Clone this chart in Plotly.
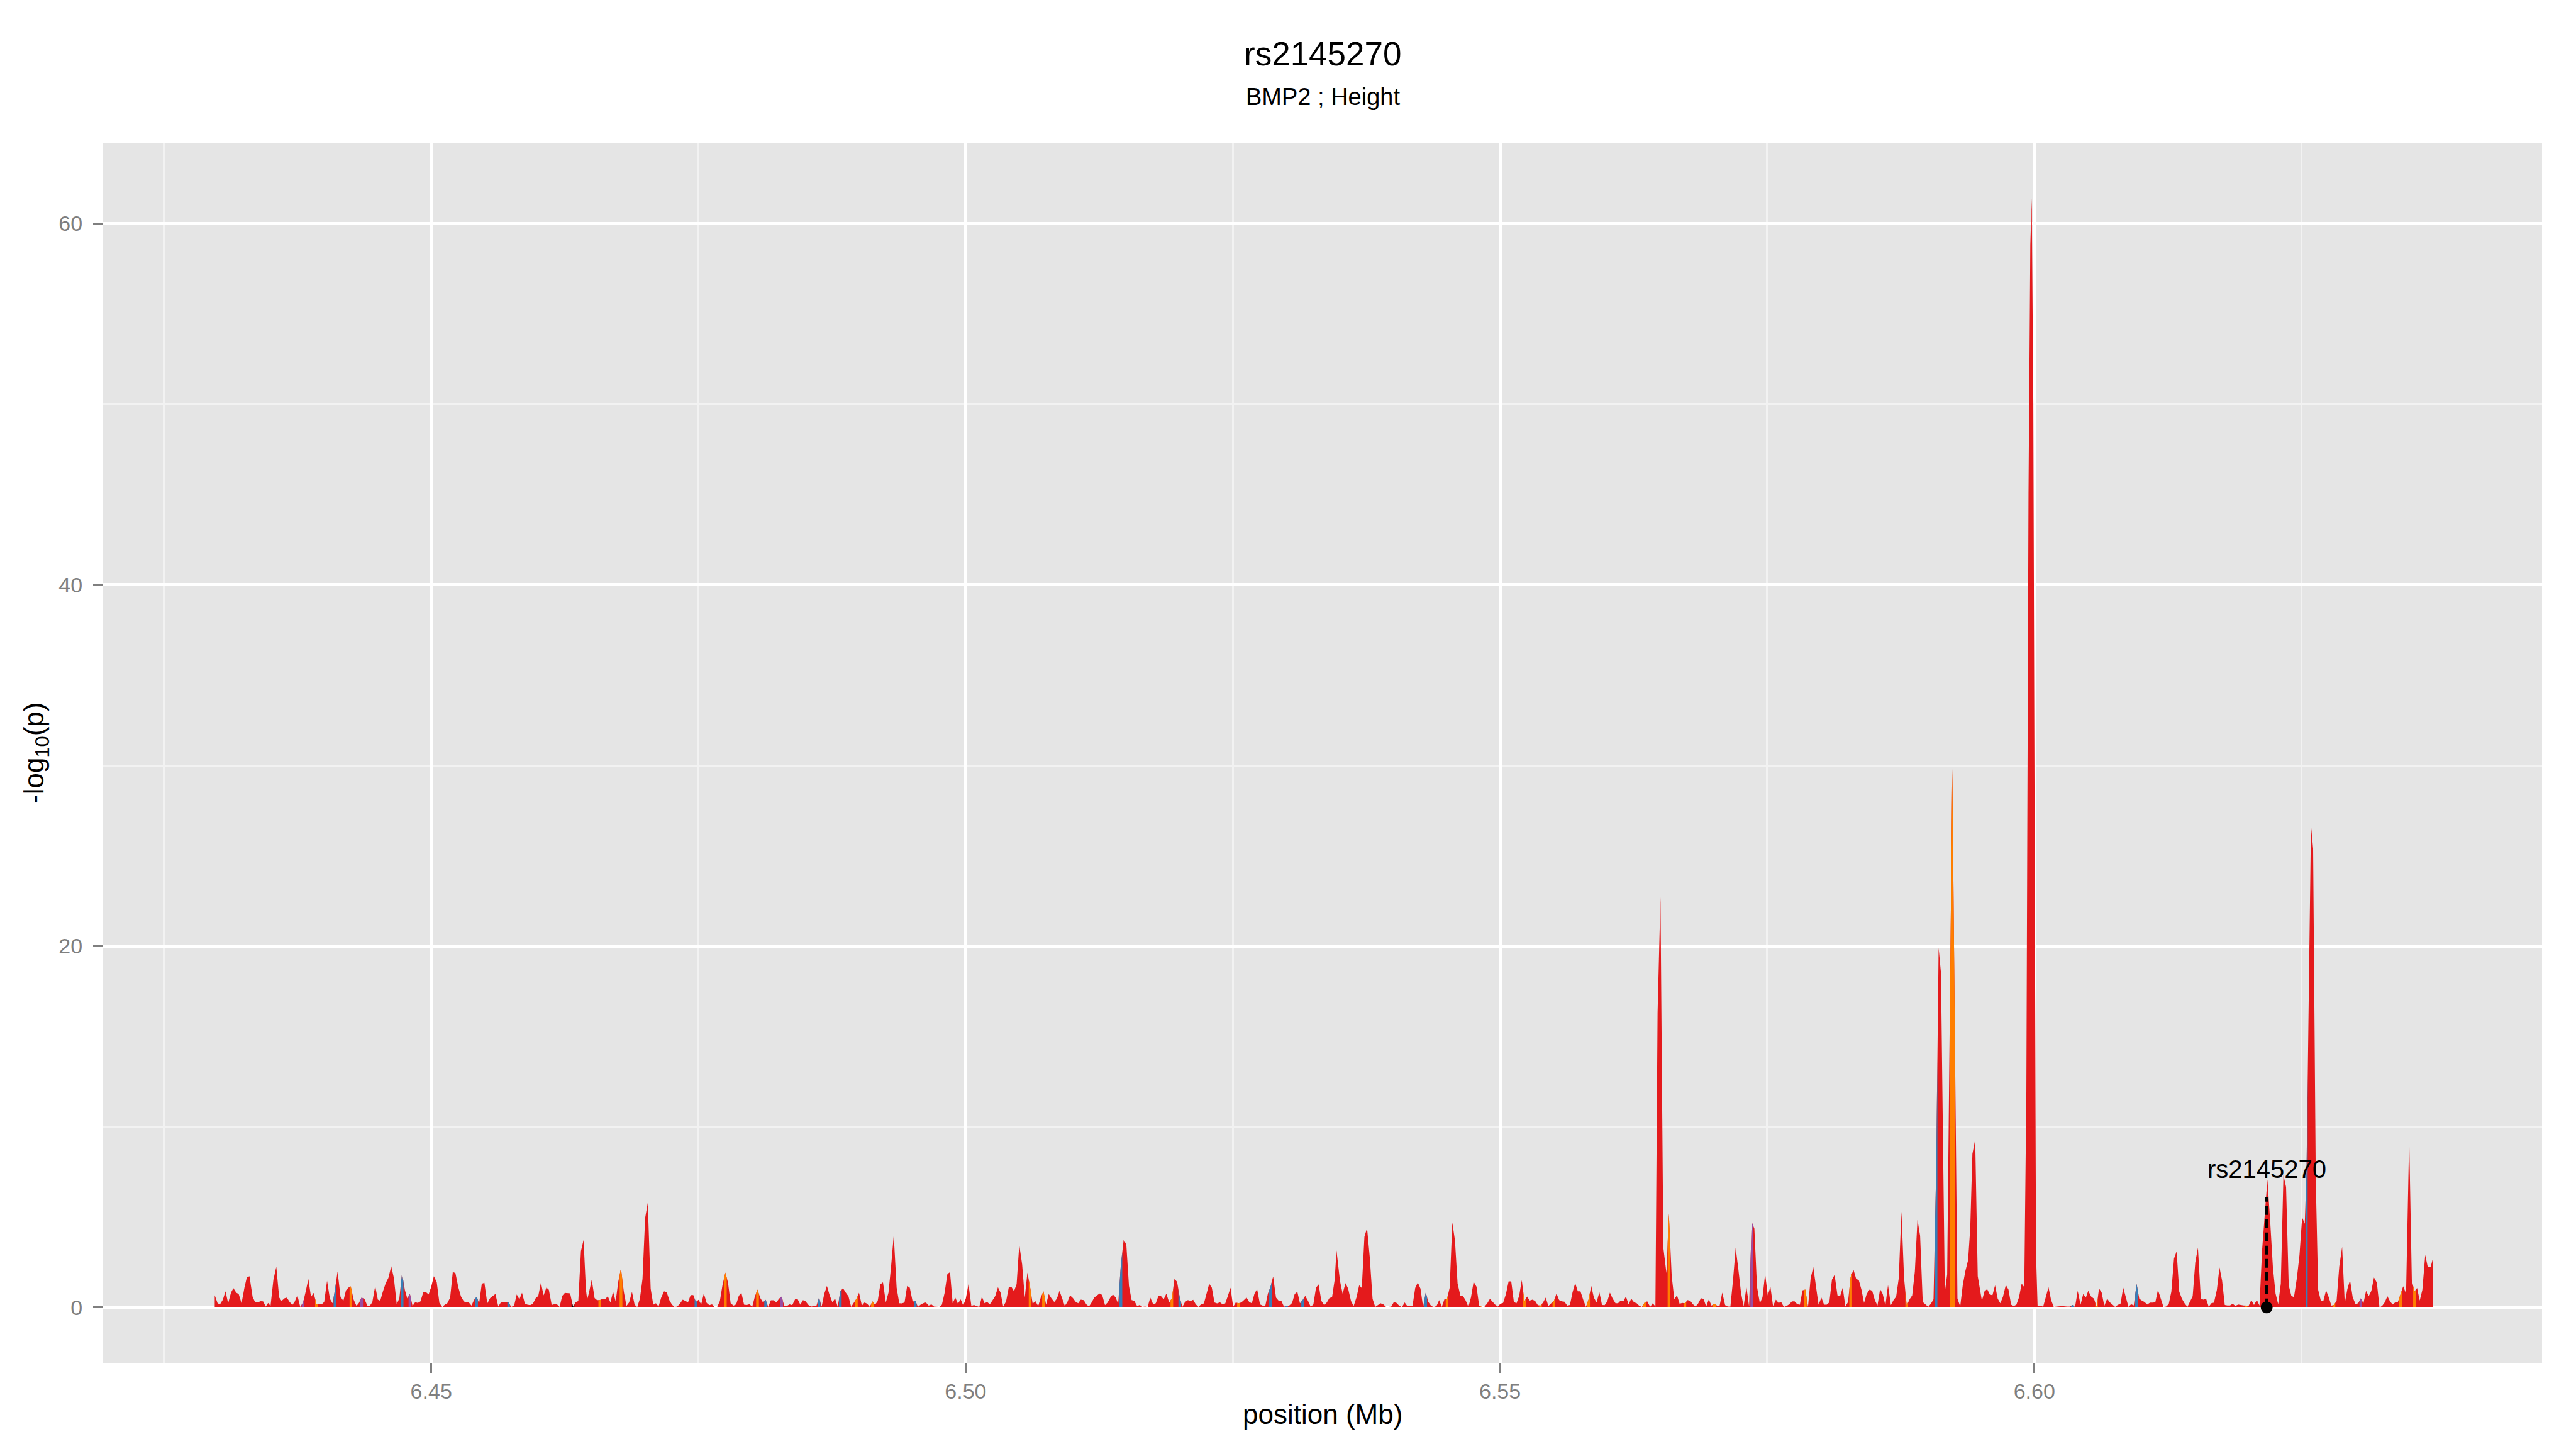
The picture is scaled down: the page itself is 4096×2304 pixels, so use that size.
import numpy as np
import plotly.graph_objects as go

# ---------------- data ----------------
# SNP positions (bp) and -log10(p)
pos_bp = [
 6429740,6430009,6430233,6430502,6430749,6430995,6431264,6431488,6431757,6431981,
 6432250,6432519,6432743,6432990,6433281,6433528,6433797,6434043,6434267,6434514,
 6434738,6434962,6435231,6435500,6435769,6435993,6436284,6436486,6436732,6437001,
 6437225,6437472,6437741,6438010,6438256,6438503,6438749,6438996,6439265,6439534,
 6439758,6439982,6440251,6440520,6440766,6440968,6441237,6441506,6441775,6442021,
 6442245,6442469,6442738,6443007,6443231,6443478,6443747,6444016,6444262,6444486,
 6444755,6445002,6445226,6445472,6445741,6445988,6446257,6446503,6446772,6447018,
 6447265,6447534,6447758,6448004,6448251,6448498,6448744,6448991,6449260,6449506,
 6449753,6450000,6450246,6450515,6450763,6451030,6451254,6451500,6451769,6452016,
 6452262,6452531,6452778,6453047,6453271,6453495,6453764,6454010,6454257,6454481,
 6454728,6454974,6455243,6455512,6455758,6456005,6456274,6456520,6456767,6457013,
 6457237,6457484,6457753,6457999,6458246,6458492,6458761,6459008,6459254,6459501,
 6459770,6460016,6460263,6460509,6460778,6461002,6461271,6461518,6461764,6462011,
 6462257,6462504,6462997,6463266,6463513,6463759,6464006,6464252,
 6464478,6464590,6464747,6465016,6465285,6465509,6465778,6466002,6466271,6466517,
 6466764,6467010,6467257,6467503,6467750,6468019,6468265,6468512,6468781,6469027,
 6469274,6469520,6469767,6470013,6470260,6470529,6470775,6471022,6471268,6471515,
 6471784,6472030,6472277,6472523,6472770,6473016,6473263,6473532,6473778,6474025,
 6474271,6474518,6474764,6475011,6475257,6475504,6475773,6476019,6476266,6476512,
 6476759,6477005,6477252,6477521,6477767,6478014,6478283,6478529,6478776,6479022,
 6479269,6479515,6479784,6480031,6480277,6480524,6480792,6481039,6481286,6481532,
 6481779,6482047,6482294,6482540,6482787,6483033,6483280,6483527,6483773,6484042,
 6484288,6484535,6484781,6485028,6485297,6485543,6485790,6486036,6486283,6486529,
 6486776,6487022,6487269,6487538,6487784,6488031,6488277,6488524,6488793,6489039,
 6489286,6489532,6489779,6490025,6490294,6490541,6490787,6491034,6491280,6491527,
 6491773,6492020,6492266,6492535,6492782,6493028,6493275,6493544,6493790,6494037,
 6494283,6494530,6494776,6495045,6495292,6495538,6495785,6496031,6496278,6496547,
 6496793,6497040,6497286,6497533,6497779,6498026,6498295,6498541,6498788,6499034,
 6499281,6499527,
 6499618,6499775,6500021,6500268,6500537,6500783,6501030,6501276,6501523,6501769,
 6502016,6502262,6502531,6502778,6503024,6503271,6503517,6503786,6504033,6504279,
 6504526,6504772,6505019,6505288,6505534,6505781,6506027,6506274,6506520,6506789,
 6507036,6507282,6507529,6507775,6508022,6508291,6508537,6508784,6509030,6509277,
 6509523,6509770,6510039,6510285,6510532,6510778,6511047,6511294,6511540,6511787,
 6512033,6512280,6512526,6512773,6513042,6513288,6513535,6513781,6514028,6514274,
 6514521,6514790,6515036,6515283,6515529,6515776,6516045,6516291,6516538,6516784,
 6517031,6517277,6517546,6517793,6518039,6518286,6518532,6518779,6519048,6519294,
 6519541,6519787,6520034,6520280,6520527,6520796,6521042,6521289,6521535,6521782,
 6522028,6522297,6522543,6522790,6523036,6523283,6523529,6523798,6524045,6524291,
 6524538,6524784,6525031,6525277,6525524,6525793,6526039,6526286,6526532,6526779,
 6527025,6527272,6527541,6527787,6528034,6528280,6528527,6528773,6529042,6529289,
 6529535,6529782,6530028,6530275,6530544,6530790,6531037,6531283,6531530,6531776,
 6532045,6532292,6532538,6532785,6533031,6533278,6533547,6533793,6534040,6534286,
 6534533,6534700,
 6535028,6535274,6535543,6535790,6536059,6536305,6536574,6536821,6537067,6537314,
 6537560,6537807,6538076,6538322,6538569,6538815,6539084,6539331,6539577,6539824,
 6540070,6540317,6540586,6540832,6541079,6541325,6541572,6541818,6542065,6542311,
 6542558,6542804,6543051,6543297,6543566,6543813,6544059,6544306,6544552,6544799,
 6545045,6545292,6545538,6545785,6546031,6546300,6546547,6546793,6547040,6547286,
 6547533,6547802,6548048,6548295,6548541,6548810,6549057,6549303,6549550,6549796,
 6550043,6550289,6550558,6550805,6551051,6551298,6551544,6551791,6552037,6552284,
 6552530,6552777,6553046,6553292,6553539,6553785,6554032,6554278,6554525,6554794,
 6555040,6555287,6555533,6555780,6556026,6556295,6556542,6556788,6557035,6557281,
 6557528,6557797,6558043,6558290,6558536,6558783,6559029,6559298,6559545,6559791,
 6560038,6560284,6560531,6560808,6561044,6561291,6561537,6561784,6562030,6562277,
 6562546,6562792,6563039,6563285,6563532,6563778,6564047,6564293,6564542,6564743,
 6565013,6565282,6565573,6565797,6566066,6566312,6566559,6566805,6567052,6567298,
 6567545,6567791,6568060,6568307,6568553,6568800,6569046,6569293,6569539,6569786,
 6570079,6570303,6570550,6570796,6571065,6571312,6571558,6571805,6572051,6572298,
 6572544,6572791,6573060,6573306,6573553,6573799,6574046,6574315,6574561,6574808,
 6575054,6575301,6575547,6575816,6576063,6576309,6576556,6576802,6577049,6577318,
 6577564,6577811,6578057,6578304,6578573,6578819,6579066,6579312,6579559,6579805,
 6580074,6580321,6580567,6580814,6581060,6581307,6581576,6581822,6582069,6582315,
 6582562,6582808,6583077,6583324,6583570,6583817,6584063,6584310,6584579,6584825,
 6585072,6585318,6585565,6585811,6586058,6586304,6586573,6586820,6587066,6587313,
 6587559,6587806,6588052,6588321,6588568,6588814,6589061,6589307,6589554,6589822,
 6590069,6590316,6590562,6590810,6591040,6591260,6591620,6591840,6592320,6592800,
 6593060,6593300,6593550,6593800,6594000,6594200,6594460,6594700,6595089,6595335,
 6595582,6595828,6596075,6596321,6596568,6596814,6597061,6597330,6597576,6597823,
 6598069,6598316,6598562,6598809,6599055,6599250,6599450,6599620,6599750,6599900,
 6600050,6600150,6600300,6600556,6600826,6601319,6601565,6601812,6602081,6602574,
 6603067,6603313,6603560,6603807,6604053,6604322,6604569,6604815,
 6605040,6605309,6605578,6605824,6606048,6606295,6606541,6606810,6607057,6607303,
 6607550,6607796,6608065,6608312,6608558,6608805,6609051,6609298,6609567,6609813,
 6610060,6610306,6610553,6610822,6611068,6611315,6611561,6611808,6612077,6612323,
 6612570,6612816,6613063,6613309,6613556,6613802,6614049,6614318,6614564,6614811,
 6615057,6615304,6615573,6615819,6616066,6616312,6616559,6616805,6617074,6617321,
 6617567,6617814,6618060,6618307,6618553,6618800,6619069,6619315,6619562,6619808,
 6620055,6620301,6620548,6620817,6621063,6621310,6621556,6621803,6622072,6622318,
 6622565,6622811,6623058,6623304,6623551,6623797,6624044,6624290,6624559,6624806,
 6625052,6625299,6625460,6625680,6625880,6626080,6626330,6626554,6626800,6627047,
 6627293,6627540,6627786,6628033,6628279,6628526,6628795,6629041,6629288,6629534,
 6629781,6630050,6630296,6630543,6630789,6631036,6631282,6631529,6631775,6632044,
 6632291,6632537,6632784,6633030,6633277,6633523,6633770,6634016,6634263,6634509,
 6634778,6635069,6635316,6635562,6635809,6636055,6636302,6636571,6636817,6637086,
 6637310,
]
logp = [
 0.67,0.23,0.17,0.43,0.89,0.23,0.82,1.06,0.81,0.74,
 0.23,1.09,1.66,1.73,0.59,0.27,0.29,0.34,0.33,0.05,
 0.25,0.08,1.53,2.25,0.55,0.36,0.51,0.54,0.32,0.13,
 0.32,0.67,0.03,0.27,0.89,1.57,0.58,0.80,0.17,0.18,
 0.18,0.30,1.47,0.47,0.23,0.89,1.99,0.59,0.36,0.94,
 1.09,1.16,0.43,0.08,0.25,0.54,0.47,0.10,0.10,0.29,
 1.19,0.43,0.37,0.87,1.34,1.63,2.27,1.63,0.17,0.52,
 1.88,0.96,0.50,0.74,0.08,0.29,0.25,0.33,0.85,0.85,
 0.72,1.14,1.73,1.39,0.25,0.02,0.14,0.23,0.54,1.96,
 1.90,1.12,0.61,0.33,0.27,0.29,0.10,0.42,0.59,0.22,
 1.31,1.36,0.22,0.52,0.64,0.74,0.05,0.28,0.27,0.27,
 0.27,0.03,0.10,0.72,0.45,0.81,0.20,0.15,0.12,0.19,
 0.51,0.64,1.38,0.66,1.10,0.98,0.13,0.18,0.17,0.03,
 0.64,0.80,0.78,0.03,0.29,0.35,3.12,3.73,
 0.94,0.45,0.79,1.53,0.52,0.40,0.40,0.47,0.45,0.62,
 0.27,0.87,0.33,1.44,2.15,0.86,0.08,0.27,0.86,0.15,
 0.02,0.47,1.58,4.95,5.79,1.04,0.15,0.23,0.05,0.54,
 0.89,0.84,0.40,0.15,0.03,0.05,0.20,0.43,0.35,0.28,
 0.68,0.68,0.30,0.42,0.17,0.77,0.25,0.12,0.17,0.03,
 0.03,0.35,1.24,1.93,1.37,0.23,0.10,0.17,0.64,0.81,
 0.15,0.13,0.18,0.03,0.59,0.99,0.52,0.28,0.42,0.03,
 0.39,0.39,0.27,0.48,0.59,0.08,0.08,0.17,0.12,0.45,
 0.45,0.15,0.40,0.33,0.13,0.05,0.07,0.08,0.54,0.05,
 0.76,1.19,0.69,0.27,0.50,0.03,0.89,1.06,0.81,0.61,
 0.03,0.27,0.47,0.81,0.10,0.27,0.20,0.03,0.33,0.15,
 0.35,1.27,1.39,0.27,0.82,2.28,3.99,1.09,0.23,0.22,
 0.27,1.19,1.09,0.32,0.37,0.03,0.15,0.23,0.27,0.10,
 0.17,0.05,0.03,0.03,0.15,0.79,1.85,1.95,0.23,0.54,
 0.20,0.45,
 0.33,0.10,0.50,1.28,0.08,0.13,0.07,0.03,0.59,0.23,
 0.30,0.17,0.40,0.64,1.12,0.81,0.05,0.33,1.09,1.14,
 0.89,1.29,3.47,2.38,0.54,1.93,1.14,0.20,0.35,0.07,
 0.56,0.89,0.15,0.74,0.51,0.30,0.48,0.92,0.50,0.08,
 0.30,0.66,0.52,0.32,0.23,0.43,0.40,0.17,0.05,0.27,
 0.54,0.66,0.77,0.69,0.12,0.27,0.54,0.72,0.56,0.20,
 2.33,3.76,3.47,1.19,0.40,0.37,0.07,0.13,0.03,0.05,
 0.03,0.54,0.18,0.23,0.64,0.62,0.45,0.76,0.27,0.50,
 1.58,1.41,0.54,0.03,0.30,0.40,0.35,0.42,0.17,0.03,
 0.17,0.22,0.76,1.31,1.09,0.27,0.22,0.28,0.17,0.22,
 0.64,1.09,0.03,0.27,0.23,0.27,0.40,0.54,0.30,0.23,
 0.76,1.01,0.17,0.10,0.07,0.76,1.14,1.71,0.54,0.37,
 0.37,0.05,0.07,0.10,0.25,0.74,0.86,0.23,0.40,0.64,
 0.35,0.03,0.17,1.09,1.27,0.37,0.12,0.27,0.52,0.57,
 1.53,3.15,
 1.46,0.76,1.34,1.04,0.35,0.07,0.56,1.22,1.07,3.91,
 4.39,2.82,0.47,0.03,0.12,0.23,0.17,0.03,0.03,0.05,
 0.30,0.25,0.08,0.02,0.27,0.07,0.07,0.10,1.07,1.38,
 1.04,0.03,0.82,0.30,0.07,0.03,0.07,0.40,0.03,0.45,
 0.48,1.09,4.70,3.71,1.32,0.64,0.62,0.38,0.03,0.56,
 1.42,1.14,0.10,0.03,0.03,0.23,0.47,0.32,0.15,0.05,
 0.20,0.25,0.74,1.44,1.44,0.30,0.23,0.64,1.51,0.33,
 0.60,0.38,0.43,0.35,0.12,0.10,0.27,0.54,0.07,0.23,
 0.35,0.77,0.40,0.33,0.32,0.10,0.13,0.84,1.34,0.89,
 0.89,0.40,0.03,0.45,1.19,0.54,0.27,0.84,0.13,0.12,
 0.33,0.82,0.50,0.23,0.23,0.38,0.33,0.60,0.17,0.48,
 0.28,0.23,0.08,0.03,0.27,0.33,0.03,0.23,0.05,16.3,
 22.7,3.30,1.90,5.18,1.73,0.45,0.67,0.20,0.25,0.23,
 0.40,0.37,0.17,0.05,0.23,0.51,0.47,0.05,0.45,0.10,
 0.20,0.10,0.10,0.82,0.12,0.05,0.05,1.53,3.29,2.13,
 0.84,0.05,1.12,0.05,4.72,4.36,1.14,0.23,0.56,1.85,
 0.66,1.14,0.07,0.43,0.25,0.30,0.03,0.07,0.17,0.33,
 0.33,0.18,0.15,0.94,0.99,0.03,1.61,2.23,1.24,0.15,
 0.54,0.15,0.15,0.28,1.53,1.80,0.66,0.62,1.09,0.05,
 0.30,1.68,2.08,1.58,1.51,0.99,0.25,0.74,0.99,0.92,
 0.40,0.10,1.01,0.74,0.10,1.24,0.12,0.40,0.59,1.63,
 5.30,1.63,0.10,0.45,0.66,1.98,4.85,3.96,0.30,0.17,
 0.03,0.20,0.45,7.60,19.9,18.5,0.84,1.83,29.8,0.50,
 0.05,1.24,2.03,2.62,4.41,8.50,9.29,1.73,0.37,0.89,
 1.01,0.72,0.67,1.22,0.48,0.23,0.59,1.24,0.99,0.15,
 0.07,0.15,0.56,1.32,1.12,12.0,45.0,58.8,61.4,50.0,
 25.0,3.00,0.07,0.08,0.05,1.12,0.40,0.03,0.05,0.07,
 0.05,0.05,0.13,0.03,0.92,0.15,0.74,0.54,
 0.92,0.60,0.48,0.03,1.05,0.82,0.08,0.48,0.28,0.16,
 0.03,0.13,0.21,1.09,0.57,0.03,0.18,0.11,1.30,0.48,
 0.38,0.30,0.16,0.26,0.26,0.28,0.97,0.48,0.03,0.05,
 0.18,0.87,2.70,3.10,0.87,0.48,0.23,0.03,0.35,0.62,
 2.50,3.30,0.48,0.43,0.48,0.03,0.23,0.26,0.97,2.21,
 1.47,0.13,0.11,0.11,0.20,0.08,0.16,0.13,0.11,0.10,
 0.10,0.40,0.13,0.41,0.10,3.20,5.28,7.08,4.68,2.21,
 0.77,0.18,1.32,7.31,6.66,1.22,0.64,0.57,1.61,2.90,
 4.98,4.63,7.40,18.3,26.7,25.4,7.00,0.97,0.38,0.38,
 0.94,0.57,0.10,0.13,0.38,2.26,3.35,0.23,1.02,1.51,
 0.57,0.18,0.23,0.50,0.23,0.92,0.62,0.92,1.66,1.37,
 0.00,0.08,0.28,0.62,0.33,0.16,0.28,0.31,0.72,1.17,
 0.77,9.36,1.51,0.87,1.07,0.38,0.97,2.90,2.21,2.26,
 2.75,
]

# SNPs in other LD classes (drawn over the red area)
hl_bp = [
 6438010,6439265,6440968,6442469,6443478,6447265,6448004,6454257,6457237,6463266,
 6465778,6467750,6474764,6477521,6480524,6481286,6482787,6486283,6488277,6489779,
 6491280,6495292,6506027,6507282,6514521,6519294,6520034,6525524,6528527,6530028,
 6531530,6543051,6545045,6548295,6552284,6553785,6555040,6558290,6563532,6565797,
 6567298,6570079,6573553,6578573,6582808,6588052,6590810,6592320,6603560,6605824,
 6609567,6619808,6625460,6628033,6630543,6634263,6635562,
]
hl_class = [
 "purple","orange","blue","orange","purple","blue","purple","blue","blue","black",
 "orange","orange","blue","orange","orange","blue","purple","blue","blue","orange",
 "orange","blue","orange","orange","blue","orange","blue","orange","blue","blue",
 "blue","blue","orange","orange","orange","orange","orange","orange","orange","orange",
 "orange","orange","purple","orange","orange","orange","blue","orange","blue","orange",
 "blue","orange","blue","orange","purple","orange","orange",
]

lead_snp = "rs2145270"
lead_bp = 6621735
lead_line_top = 6.12
lead_label_y = 7.65

title_text = "rs2145270"
subtitle_text = "BMP2 ; Height"

# ---------------- styles ----------------
COLORS = {"red": "#E41A1C", "orange": "#FF7F00", "blue": "#377EB8",
          "purple": "#984EA3", "black": "#000000"}
FONT = "Liberation Sans, Arial, Helvetica, sans-serif"

x = np.array(pos_bp, dtype=float) / 1e6
y = np.array(logp, dtype=float)

fig = go.Figure()
fig.add_trace(go.Scatter(x=x, y=y, mode="lines", line=dict(width=0, color=COLORS["red"]),
                         fill="tozeroy", fillcolor=COLORS["red"], hoverinfo="skip",
                         showlegend=False))

# coloured bands for the SNPs of the other classes
idx_of = {p: i for i, p in enumerate(pos_bp)}
for cls in ["orange", "blue", "purple", "black"]:
    xs, ys = [], []
    for p, c in zip(hl_bp, hl_class):
        if c != cls:
            continue
        i = idx_of[p]
        xl = (x[i - 1] + x[i]) / 2 if i > 0 else x[i]
        xr = (x[i] + x[i + 1]) / 2 if i < len(x) - 1 else x[i]
        yl = float(np.interp(xl, x, y))
        yr = float(np.interp(xr, x, y))
        xs += [xl, xl, x[i], xr, xr, xl, None]
        ys += [0, yl, y[i], yr, 0, 0, None]
    fig.add_trace(go.Scatter(x=xs, y=ys, mode="lines", line=dict(width=0, color=COLORS[cls]),
                             fill="toself", fillcolor=COLORS[cls], hoverinfo="skip",
                             showlegend=False))

lead_x = lead_bp / 1e6
fig.add_trace(go.Scatter(x=[lead_x, lead_x], y=[0, lead_line_top], mode="lines",
                         line=dict(color="black", width=5, dash="14px,7px"),
                         hoverinfo="skip", showlegend=False))
fig.add_trace(go.Scatter(x=[lead_x], y=[0], mode="markers",
                         marker=dict(color="black", size=19),
                         hoverinfo="skip", showlegend=False, cliponaxis=False))

fig.add_annotation(x=lead_x, y=lead_label_y, xref="x", yref="y", text=lead_snp,
                   showarrow=False, font=dict(family=FONT, size=40, color="black"),
                   xanchor="center", yanchor="middle")

# titles
fig.add_annotation(x=0.5, y=1.0727, xref="paper", yref="paper", text=title_text,
                   showarrow=False, font=dict(family=FONT, size=53, color="black"),
                   xanchor="center", yanchor="middle")
fig.add_annotation(x=0.5, y=1.0376, xref="paper", yref="paper", text=subtitle_text,
                   showarrow=False, font=dict(family=FONT, size=38, color="black"),
                   xanchor="center", yanchor="middle")
fig.add_annotation(x=0.5, y=-0.0418, xref="paper", yref="paper", text="position (Mb)",
                   showarrow=False, font=dict(family=FONT, size=44, color="black"),
                   xanchor="center", yanchor="middle")
fig.add_annotation(x=-0.0276, y=0.5, xref="paper", yref="paper",
                   text="-log<sub>10</sub>(p)", textangle=-90,
                   showarrow=False, font=dict(family=FONT, size=44, color="black"),
                   xanchor="center", yanchor="middle")

axis_common = dict(showline=False, zeroline=False, ticks="outside", ticklen=15,
                   tickwidth=2.5, tickcolor="#7F7F7F",
                   tickfont=dict(family=FONT, size=34, color="#7F7F7F"),
                   showgrid=True, gridcolor="#FFFFFF", gridwidth=4.8)

fig.update_xaxes(range=[6.4193, 6.6475], tick0=6.45, dtick=0.05, tickformat=".2f",
                 minor=dict(tick0=6.425, dtick=0.025, showgrid=True,
                            gridcolor="#F2F2F2", gridwidth=2.6),
                 **axis_common)
fig.update_yaxes(range=[-3.07, 64.47], tick0=0, dtick=20,
                 minor=dict(tick0=0, dtick=10, showgrid=True,
                            gridcolor="#F2F2F2", gridwidth=2.6),
                 ticklabelstandoff=10,
                 **axis_common)

fig.update_layout(width=4096, height=2304,
                  margin=dict(l=164, r=54, t=227, b=137, pad=0),
                  plot_bgcolor="#E5E5E5", paper_bgcolor="#FFFFFF",
                  font=dict(family=FONT), showlegend=False)

fig.write_html("out.html", config={"displayModeBar": False},
               post_script="document.body.style.margin='0';document.body.style.overflow='hidden';")
